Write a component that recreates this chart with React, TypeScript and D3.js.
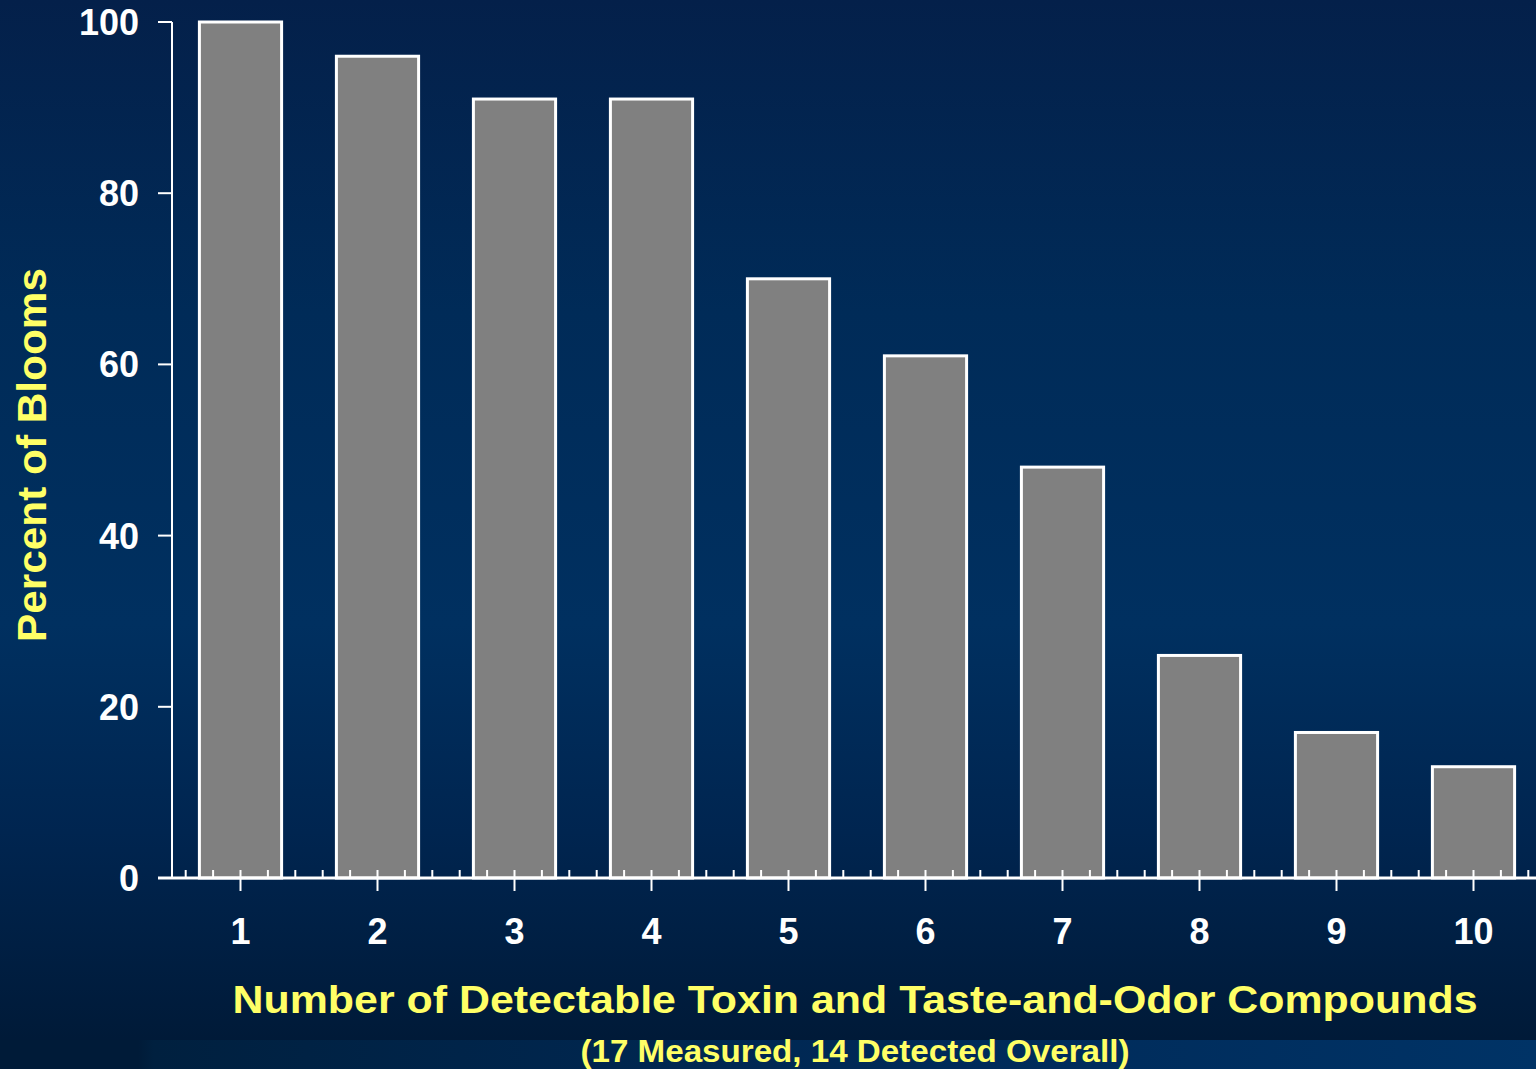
import React from "react";
import * as d3 from "d3";

const categories = ["1", "2", "3", "4", "5", "6", "7", "8", "9", "10"];
const percentValues = [100, 96, 91, 91, 70, 61, 48, 26, 17, 13];
const yTicks = [0, 20, 40, 60, 80, 100];
const yTitle = "Percent of Blooms";
const xTitle = "Number of Detectable Toxin and Taste-and-Odor Compounds";
const xSubtitle = "(17 Measured, 14 Detected Overall)";

const W = 1536;
const H = 1069;
const FONT = "'Liberation Sans', Arial, Helvetica, sans-serif";

export default function App() {
  const x0 = 172;
  const step = 137;
  const xBand = d3
    .scaleBand<string>()
    .domain(categories)
    .range([x0, x0 + step * categories.length])
    .paddingInner(0.4)
    .paddingOuter(0.2);
  const xLin = d3.scaleLinear().domain([0.5, 10.5]).range([x0, x0 + step * 10]);
  const y = d3.scaleLinear().domain([0, 100]).range([878, 22]);

  const minorTicks = d3.range(0.6, 11.0, 0.2).filter((v) => xLin(v) < W);

  return (
    <div style={{ position: "absolute", left: 0, top: 0 }}>
      <svg width={W} height={H} style={{ display: "block" }}>
        <defs>
          <linearGradient id="bg" x1="0" y1="0" x2="0" y2="1">
            <stop offset="0" stopColor="#04204a" />
            <stop offset="0.3" stopColor="#002b58" />
            <stop offset="0.6" stopColor="#003060" />
            <stop offset="0.8" stopColor="#002550" />
            <stop offset="1" stopColor="#001a38" />
          </linearGradient>
          <linearGradient id="strip" x1="0" y1="0" x2="1" y2="0">
            <stop offset="0" stopColor="#001b38" />
            <stop offset="0.09" stopColor="#001b38" />
            <stop offset="0.1" stopColor="#00203f" />
            <stop offset="0.6" stopColor="#002a58" />
            <stop offset="1" stopColor="#003366" />
          </linearGradient>
        </defs>
        <rect x={0} y={0} width={W} height={1040} fill="url(#bg)" />
        <rect x={0} y={1040} width={W} height={H - 1040} fill="url(#strip)" />

        {/* bars */}
        {categories.map((c, i) => (
          <rect
            key={c}
            x={xBand(c)}
            y={y(percentValues[i])}
            width={xBand.bandwidth()}
            height={y(0) - y(percentValues[i])}
            fill="#808080"
            stroke="#ffffff"
            strokeWidth={3}
          />
        ))}

        {/* y axis */}
        <line x1={x0} x2={x0} y1={y(100)} y2={y(0)} stroke="#fff" strokeWidth={2} />
        {yTicks.map((t) => (
          <g key={t}>
            <line x1={158} x2={x0} y1={y(t)} y2={y(t)} stroke="#fff" strokeWidth={2} />
            <text
              x={139}
              y={y(t)}
              dy="0.36em"
              textAnchor="end"
              fill="#fff"
              fontFamily={FONT}
              fontWeight="bold"
              fontSize={36}
            >
              {t}
            </text>
          </g>
        ))}

        {/* x axis */}
        <line x1={158} x2={W} y1={y(0)} y2={y(0)} stroke="#fff" strokeWidth={3} />
        {minorTicks.map((v, i) => (
          <line
            key={i}
            x1={xLin(v)}
            x2={xLin(v)}
            y1={y(0) - 8}
            y2={y(0)}
            stroke="#fff"
            strokeWidth={2}
          />
        ))}
        {categories.map((c) => {
          const cx = (xBand(c) as number) + xBand.bandwidth() / 2;
          return (
            <g key={c}>
              <line x1={cx} x2={cx} y1={y(0)} y2={y(0) + 13} stroke="#fff" strokeWidth={2} />
              <text
                x={cx}
                y={944}
                textAnchor="middle"
                fill="#fff"
                fontFamily={FONT}
                fontWeight="bold"
                fontSize={36}
              >
                {c}
              </text>
            </g>
          );
        })}

        {/* titles */}
        <text
          x={855}
          y={1013}
          textAnchor="middle"
          fill="#ffff66"
          fontFamily={FONT}
          fontWeight="bold"
          fontSize={39}
          textLength={1245}
          lengthAdjust="spacingAndGlyphs"
        >
          {xTitle}
        </text>
        <text
          x={855}
          y={1062}
          textAnchor="middle"
          fill="#ffff66"
          fontFamily={FONT}
          fontWeight="bold"
          fontSize={31}
          textLength={549}
          lengthAdjust="spacingAndGlyphs"
        >
          {xSubtitle}
        </text>
        <text
          transform={`translate(46, 455) rotate(-90)`}
          textAnchor="middle"
          fill="#ffff66"
          fontFamily={FONT}
          fontWeight="bold"
          fontSize={40}
          textLength={374}
          lengthAdjust="spacingAndGlyphs"
        >
          {yTitle}
        </text>
      </svg>
    </div>
  );
}
